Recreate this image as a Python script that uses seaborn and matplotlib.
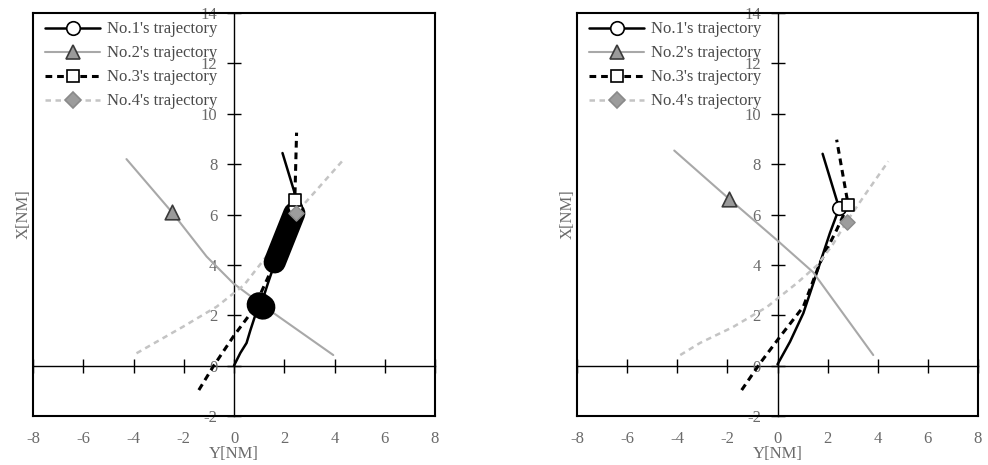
import matplotlib
matplotlib.use("Agg")
import matplotlib.pyplot as plt
from matplotlib.lines import Line2D
import seaborn as sns

# ---- trajectories, left scenario (Y = east [NM], X = north [NM]) ----
L1_y = [0.0, 0.25, 0.5, 0.65, 0.83, 1.1, 1.36, 1.6, 2.0, 2.4, 2.43, 1.93]
L1_x = [0.0, 0.5, 0.9, 1.4, 1.95, 2.5, 3.3, 4.0, 5.1, 6.2, 6.8, 8.44]
L2_y = [-4.28, -2.46, -1.09, -0.03, 1.30, 3.95]
L2_x = [8.2, 6.08, 4.33, 3.27, 2.28, 0.42]
L3_y = [-1.40, -0.83, -0.03, 0.76, 1.43, 2.0, 2.42, 2.49]
L3_x = [-0.97, -0.04, 1.15, 2.21, 3.67, 5.1, 6.58, 9.25]
L4_y = [-3.88, -2.02, -0.69, 0.4, 1.3, 2.46, 3.4, 4.35]
L4_x = [0.49, 1.55, 2.34, 3.2, 4.35, 6.05, 7.1, 8.17]
# current positions (No.1 .. No.4)
L_pos_y = [2.43, -2.46, 2.43, 2.46]
L_pos_x = [6.30, 6.08, 6.58, 6.05]
# conflict segments along No.1's path
L_conf1_y = [1.0, 1.15]
L_conf1_x = [2.42, 2.32]
L_conf2_y = [1.62, 2.40]
L_conf2_x = [4.1, 6.05]

# ---- trajectories, right scenario ----
R1_y = [0.0, 0.5, 1.03, 1.43, 2.09, 2.46, 1.80]
R1_x = [0.05, 0.95, 2.08, 3.27, 5.26, 6.25, 8.41]
R2_y = [-4.12, -1.93, -0.03, 1.42, 3.82]
R2_x = [8.54, 6.62, 4.99, 3.71, 0.42]
R3_y = [-1.43, -0.70, 0.10, 1.03, 1.69, 2.36, 2.82, 2.36]
R3_x = [-0.97, 0.09, 1.15, 2.34, 4.07, 5.39, 6.38, 8.97]
R4_y = [-3.88, -3.09, -1.78, -0.42, 0.78, 1.6, 2.2, 2.76, 3.5, 4.42]
R4_x = [0.42, 0.90, 1.53, 2.33, 3.28, 4.0, 4.8, 5.72, 6.8, 8.11]
R_pos_y = [2.46, -1.93, 2.82, 2.76]
R_pos_x = [6.25, 6.62, 6.38, 5.72]

labels = ["No.1's trajectory", "No.2's trajectory",
          "No.3's trajectory", "No.4's trajectory"]
ticks = [-8, -6, -4, -2, 0, 2, 4, 6, 8]
yticks = [-2, 0, 2, 4, 6, 8, 10, 12, 14]

sns.set_theme(style="white")
plt.rcParams["font.family"] = ["Liberation Serif", "DejaVu Serif"]
plt.rcParams["axes.unicode_minus"] = False

styles = [
    dict(color="black", lw=1.8, dashes=None),
    dict(color="#a8a8a8", lw=1.5, dashes=None),
    dict(color="black", lw=2.2, dashes=(2.2, 1.6)),
    dict(color="#c4c4c4", lw=1.8, dashes=(2.2, 1.8)),
]
markers = [
    dict(marker="o", s=95, facecolor="white", edgecolor="black", linewidth=1.2),
    dict(marker="^", s=110, facecolor="#9a9a9a", edgecolor="#3a3a3a", linewidth=1.2),
    dict(marker="s", s=85, facecolor="white", edgecolor="black", linewidth=1.2),
    dict(marker="D", s=60, facecolor="#9c9c9c", edgecolor="#8a8a8a", linewidth=1.0),
]

fig = plt.figure(figsize=(9.88, 4.65), dpi=100)
ax_l = fig.add_axes([0.0334, 0.1054, 0.4069, 0.8666])
ax_r = fig.add_axes([0.5840, 0.1054, 0.4059, 0.8666])

text_grey = "#6a6a6a"


def draw_panel(ax, trajs, pos_y, pos_x, conflicts=()):
    ax.set_xlim(-8, 8)
    ax.set_ylim(-2, 14)
    for sp in ax.spines.values():
        sp.set_visible(True)
        sp.set_color("black")
        sp.set_linewidth(1.5)

    # center axes through the origin with crossing tick marks
    sx = ax.secondary_xaxis(0.125)
    sx.set_xticks(ticks)
    sx.tick_params(direction="inout", length=10, width=1, color="black",
                   labelbottom=False, labeltop=False)
    sx.spines["bottom"].set_color("black")
    sx.spines["bottom"].set_linewidth(1.0)
    sy = ax.secondary_yaxis(0.5)
    sy.set_alignment("left")
    sy.set_yticks(yticks)
    sy.set_yticklabels([str(t) for t in yticks])
    sy.tick_params(direction="inout", length=10, width=1, color="black",
                   labelsize=12, labelcolor=text_grey, pad=7)
    sy.spines["left"].set_color("black")
    sy.spines["left"].set_linewidth(1.0)

    ax.set_xticks(ticks)
    ax.set_xticklabels([str(t) for t in ticks])
    ax.set_yticks([])
    ax.tick_params(axis="x", length=0, labelsize=12, labelcolor=text_grey, pad=11)
    ax.set_xlabel("Y[NM]", fontsize=12, color=text_grey, labelpad=-1)
    ax.set_ylabel("X[NM]", fontsize=12, color=text_grey, labelpad=1)

    for (ty, tx), st in zip(trajs, styles):
        sns.lineplot(x=ty, y=tx, sort=False, estimator=None, ax=ax,
                     color=st["color"], lw=st["lw"], legend=False)
        line = ax.lines[-1]
        if st["dashes"] is not None:
            line.set_dashes(st["dashes"])

    for k, (cy, cx) in enumerate(conflicts):
        sns.lineplot(x=cy, y=cx, sort=False, estimator=None, ax=ax,
                     color="black", lw=18 if k == 0 else 16, legend=False,
                     solid_capstyle="round")

    for i, mk in enumerate(markers):
        sns.scatterplot(x=[pos_y[i]], y=[pos_x[i]], ax=ax, zorder=5 + i,
                        legend=False, **mk)

    handles = []
    for st, mk in zip(styles, markers):
        h = Line2D([0], [0], color=st["color"], lw=st["lw"],
                   marker=mk["marker"], markersize=(mk["s"] ** 0.5),
                   markerfacecolor=mk["facecolor"],
                   markeredgecolor=mk["edgecolor"], markeredgewidth=1.2)
        if st["dashes"] is not None:
            h.set_dashes(st["dashes"])
        handles.append(h)
    leg = ax.legend(handles, labels, loc="upper left", frameon=False,
                    fontsize=12, handlelength=3.3, labelspacing=0.48,
                    borderaxespad=0.1, handletextpad=0.4,
                    bbox_to_anchor=(0.01, 1.0))
    for t in leg.get_texts():
        t.set_color("#4a4a4a")
    leg.set_zorder(10)


draw_panel(ax_l,
           [(L1_y, L1_x), (L2_y, L2_x), (L3_y, L3_x), (L4_y, L4_x)],
           L_pos_y, L_pos_x,
           conflicts=[(L_conf1_y, L_conf1_x), (L_conf2_y, L_conf2_x)])
draw_panel(ax_r,
           [(R1_y, R1_x), (R2_y, R2_x), (R3_y, R3_x), (R4_y, R4_x)],
           R_pos_y, R_pos_x)

fig.savefig("out.png", dpi=100)
